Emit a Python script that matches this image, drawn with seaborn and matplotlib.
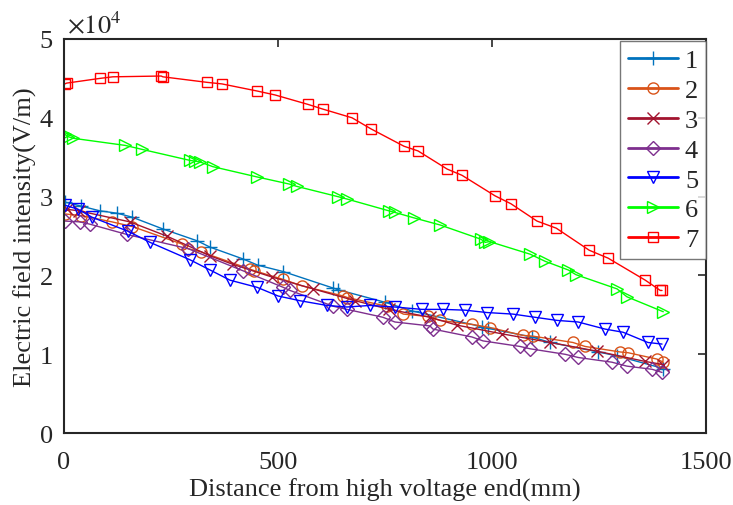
import numpy as np
import pandas as pd
import matplotlib
matplotlib.use("Agg")
import matplotlib.pyplot as plt
import seaborn as sns

# Data: distance (mm), field intensity (x1e4 V/m)
x1 = [3, 40, 84, 124, 159, 231, 311, 341, 418, 453, 512, 629, 640, 750, 813, 976, 990, 1093, 1136, 1248, 1292, 1400]
y1 = [2.93, 2.88, 2.82, 2.79, 2.74, 2.59, 2.44, 2.36, 2.21, 2.13, 2.05, 1.84, 1.82, 1.66, 1.55, 1.35, 1.33, 1.22, 1.15, 1.03, 0.98, 0.82]

x2 = [3, 40, 112, 160, 275, 290, 320, 435, 445, 512, 555, 652, 662, 754, 793, 850, 878, 953, 995, 1072, 1096, 1189, 1217, 1299, 1318, 1385, 1400]
y2 = [2.78, 2.76, 2.68, 2.62, 2.40, 2.34, 2.30, 2.08, 2.06, 1.95, 1.87, 1.74, 1.72, 1.61, 1.51, 1.48, 1.43, 1.38, 1.34, 1.24, 1.23, 1.15, 1.10, 1.03, 1.02, 0.94, 0.90]

x3 = [6, 35, 154, 240, 341, 395, 486, 582, 680, 760, 855, 918, 1023, 1136, 1245, 1357, 1400]
y3 = [2.84, 2.82, 2.68, 2.50, 2.25, 2.14, 1.98, 1.83, 1.68, 1.57, 1.47, 1.37, 1.26, 1.15, 1.04, 0.91, 0.87]

x4 = [3, 37, 61, 147, 290, 418, 512, 528, 629, 661, 745, 773, 855, 862, 953, 979, 1065, 1089, 1171, 1201, 1280, 1315, 1374, 1397]
y4 = [2.69, 2.68, 2.65, 2.52, 2.34, 2.06, 1.85, 1.81, 1.61, 1.57, 1.47, 1.41, 1.36, 1.32, 1.22, 1.17, 1.10, 1.07, 1.00, 0.96, 0.90, 0.85, 0.81, 0.77]

x5 = [3, 33, 65, 150, 201, 294, 341, 388, 451, 500, 551, 614, 661, 715, 773, 836, 886, 937, 988, 1049, 1100, 1152, 1201, 1264, 1306, 1364, 1397]
y5 = [2.89, 2.84, 2.74, 2.56, 2.42, 2.20, 2.07, 1.94, 1.85, 1.74, 1.68, 1.62, 1.60, 1.62, 1.60, 1.57, 1.57, 1.56, 1.53, 1.51, 1.47, 1.43, 1.41, 1.32, 1.28, 1.15, 1.13]

x6 = [2, 10, 22, 143, 182, 294, 306, 318, 348, 451, 526, 544, 640, 661, 759, 773, 818, 879, 974, 984, 994, 1089, 1124, 1178, 1196, 1292, 1315, 1400]
y6 = [3.79, 3.76, 3.74, 3.65, 3.60, 3.46, 3.45, 3.44, 3.38, 3.25, 3.16, 3.13, 3.00, 2.97, 2.82, 2.80, 2.73, 2.64, 2.46, 2.42, 2.43, 2.27, 2.18, 2.07, 2.01, 1.83, 1.73, 1.54]

x7 = [2, 6, 84, 114, 227, 231, 334, 369, 451, 493, 570, 605, 673, 717, 794, 827, 895, 930, 1007, 1044, 1105, 1150, 1227, 1271, 1358, 1393, 1397]
y7 = [4.43, 4.44, 4.50, 4.52, 4.53, 4.52, 4.45, 4.43, 4.34, 4.29, 4.17, 4.11, 4.00, 3.86, 3.64, 3.58, 3.35, 3.27, 3.01, 2.91, 2.69, 2.60, 2.32, 2.22, 1.94, 1.81, 1.81]

labels = ["1", "2", "3", "4", "5", "6", "7"]
xs = [x1, x2, x3, x4, x5, x6, x7]
ys = [y1, y2, y3, y4, y5, y6, y7]

colors = ["#0072BD", "#D95319", "#A2142F", "#7E2F8E", "#0000FF", "#00FF00", "#FF0000"]
markers = ["+", "o", "x", "D", "v", ">", "s"]
msizes = [10, 8, 8, 7, 8, 9, 6.5]

sns.set_style("white")
plt.rcParams["font.family"] = ["Liberation Serif", "DejaVu Serif"]
plt.rcParams["mathtext.fontset"] = "stix"

fig = plt.figure(figsize=(7.33, 5.06), dpi=100)
ax = fig.add_axes([0.0873, 0.142, 0.8760, 0.779])

for lab, x, y, c, m, ms in zip(labels, xs, ys, colors, markers, msizes):
    df = pd.DataFrame({"x": x, "y": y})
    filled = m in ("+", "x")
    sns.lineplot(data=df, x="x", y="y", ax=ax, color=c, marker=m,
                 markersize=ms, markerfacecolor=c if filled else "none",
                 markeredgecolor=c, markeredgewidth=1.0, linewidth=1.0,
                 estimator=None, sort=False, label=lab)

ax.set_xlim(0, 1500)
ax.set_ylim(0, 5)
ax.set_xticks([0, 500, 1000, 1500])
ax.set_yticks([0, 1, 2, 3, 4, 5])
ax.set_xticklabels(["0", "500", "1000", "1500"])
ax.set_yticklabels(["0", "1", "2", "3", "4", "5"])
ax.tick_params(direction="in", length=6, width=1.2, top=True, right=True,
               labelsize=19, colors="#262626")
ax.tick_params(axis="x", pad=13)
ax.tick_params(axis="y", pad=8)
for s in ax.spines.values():
    s.set_linewidth(1.5)
    s.set_color("#262626")
    s.set_visible(True)

ax.set_xlabel("Distance from high voltage end(mm)", fontsize=19, color="#262626", labelpad=3)
ax.set_ylabel("Electric field intensity(V/m)", fontsize=19, color="#262626", labelpad=2)
ax.text(0.005, 1.005, r"$\times10^4$", transform=ax.transAxes, fontsize=19,
        color="#262626", ha="left", va="bottom")

leg = ax.legend(loc="upper right", bbox_to_anchor=(1.0, 0.995), fontsize=19,
                frameon=True, fancybox=False, edgecolor="#555555",
                handlelength=1.9, handletextpad=0.25, labelspacing=0.24,
                borderpad=0.3, borderaxespad=0.0)
leg.get_frame().set_linewidth(1.0)
for h in leg.get_lines():
    h.set_linewidth(2.0)

fig.savefig("out.png", dpi=100)
